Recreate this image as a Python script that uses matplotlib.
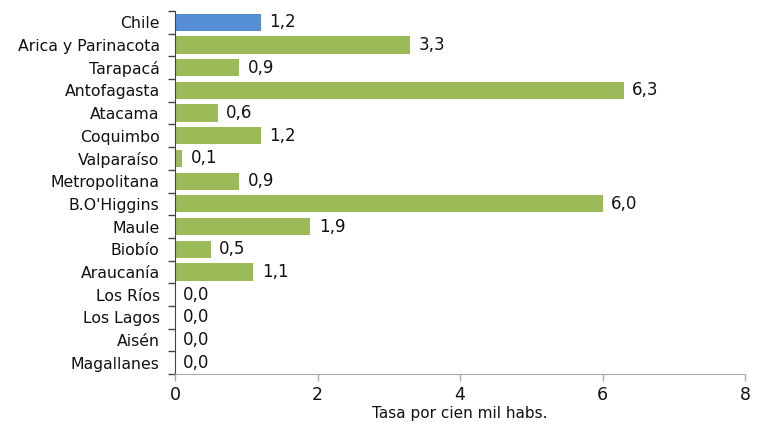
import matplotlib
matplotlib.use("Agg")
import matplotlib.pyplot as plt
import numpy as np

regions = ["Chile", "Arica y Parinacota", "Tarapacá", "Antofagasta", "Atacama",
           "Coquimbo", "Valparaíso", "Metropolitana", "B.O'Higgins", "Maule",
           "Biobío", "Araucanía", "Los Ríos", "Los Lagos", "Aisén", "Magallanes"]
values = [1.2, 3.3, 0.9, 6.3, 0.6, 1.2, 0.1, 0.9, 6.0, 1.9, 0.5, 1.1, 0.0, 0.0, 0.0, 0.0]
x_ticks = [0, 2, 4, 6, 8]
x_label = "Tasa por cien mil habs."

plt.rcParams['font.family'] = ['DejaVu Sans']

fig = plt.figure(figsize=(7.6, 4.24), dpi=100)
ax = fig.add_axes([175/760, 1-374/424, 570/760, 363/424])

n = len(regions)
y = np.arange(n)
colors = ["#558ED5"] + ["#9BBB59"] * (n - 1)
ax.barh(y, values, height=0.76, color=colors, zorder=2)
ax.set_ylim(n - 0.5, -0.5)
ax.set_xlim(0, 8)

for yi, v in zip(y, values):
    ax.annotate(f"{v:.1f}".replace(".", ","), xy=(v, yi), xytext=(6, 0),
                textcoords="offset points", va="center", ha="left",
                fontsize=12, color="#111111")

ax.set_yticks(y)
ax.set_yticklabels(regions, fontsize=11.3, color="#111111")
ax.tick_params(axis="y", which="major", length=0, pad=11)
ax.set_yticks(np.arange(-0.5, n, 1.0), minor=True)
ax.tick_params(axis="y", which="minor", length=5, width=1, color="#444444", direction="out")

ax.set_xticks(x_ticks)
ax.set_xticklabels([str(t) for t in x_ticks], fontsize=12.5, color="#111111")
ax.tick_params(axis="x", length=5, width=1, color="#aaaaaa", direction="out", pad=4)
ax.set_xlabel(x_label, fontsize=11, color="#111111", labelpad=1)

for s in ["top", "right"]:
    ax.spines[s].set_visible(False)
ax.spines["bottom"].set_color("#aaaaaa")
ax.spines["left"].set_color("#444444")

fig.savefig("out.png", dpi=100)
